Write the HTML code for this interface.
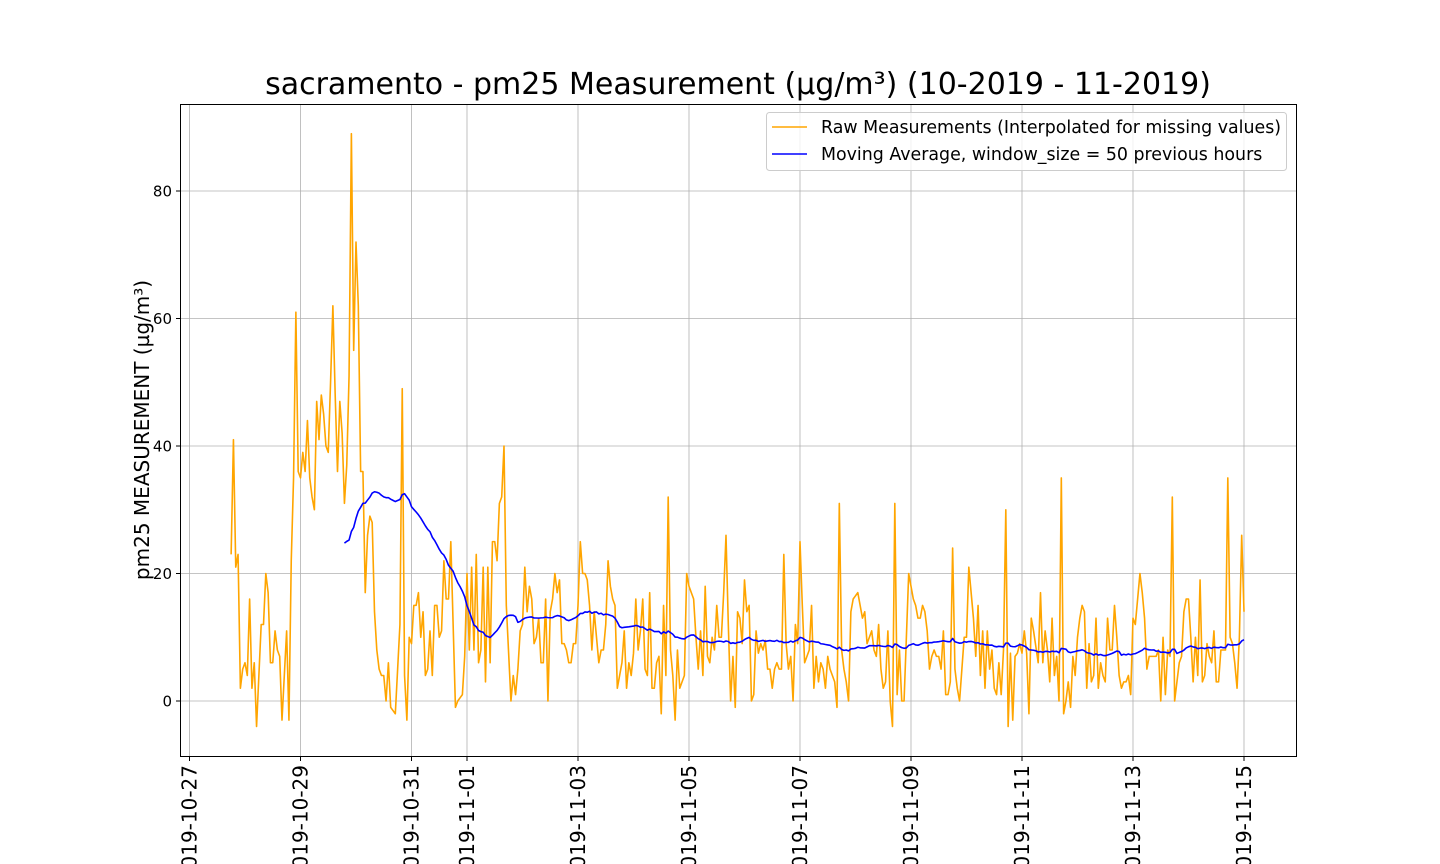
<!DOCTYPE html>
<html><head><meta charset="utf-8"><style>
html,body{margin:0;padding:0;background:#fff;}
svg{display:block;font-family:"DejaVu Sans","Liberation Sans",sans-serif;}
</style></head><body>
<svg id="chart" width="1440" height="864" viewBox="0 0 1440 864">
<text x="738" y="94" font-size="30" text-anchor="middle" fill="#000">sacramento - pm25 Measurement (µg/m³) (10-2019 - 11-2019)</text>
<g id="grid"></g>
<g id="series"></g>
<rect x="180.5" y="104.5" width="1116" height="652" fill="none" stroke="#000" stroke-width="1"/>
<g id="yaxis"></g>
<g id="xaxis"></g>
<text transform="translate(149,430) rotate(-90)" font-size="20" text-anchor="middle">pm25 MEASUREMENT (µg/m³)</text>
<g>
<rect x="766.5" y="112.5" width="520" height="58" rx="3" fill="#fff" fill-opacity="0.8" stroke="#ccc"/>
<line x1="772" y1="127" x2="807" y2="127" stroke="orange" stroke-width="1.6"/>
<text x="821" y="133" font-size="17.4">Raw Measurements (Interpolated for missing values)</text>
<line x1="772" y1="154" x2="807" y2="154" stroke="blue" stroke-width="1.6"/>
<text x="821" y="160" font-size="17.4">Moving Average, window_size = 50 previous hours</text>
</g>
</svg>
<script>
const startHour = 18; // hours after 2019-10-27 00:00
const windowSize = 50;
const yTicks = [0, 20, 40, 60, 80];
const xTickDays = [0, 2, 4, 5, 7, 9, 11, 13, 15, 17, 19];
const xTickLabels = ["2019-10-27","2019-10-29","2019-10-31","2019-11-01","2019-11-03","2019-11-05","2019-11-07","2019-11-09","2019-11-11","2019-11-13","2019-11-15"];
const rawValues = [
23,41,21,23,2,5,6,4,16,2,6,-4,4,12,12,20,17,6,6,11,8,7,-3,4,11,-3,22,35,61,36,
35,39,36,44,35,32,30,47,41,48,45,40,39,50,62,48,36,47,42,31,37,51,89,55,72,62,36,36,17,26,
29,28,14,8,5,4,4,0,6,-1,-1.5,-2,5,12,49,4,-3,10,9,15,15,17,10,14,4,5,11,4,15,15,
10,11,22,16,16,25,12,-1,0,0.5,1,7,20,8,21,8,23,6,8,21,3,21,6,25,25,22,31,32,40,15,
7.5,0,4,1,5,11,12,21,14,18,16,9,10,13,6,6,16,0,14,16,20,17,19,9,9,8,6,6,9,9,
15,25,20,20,19,15,8,14,10,6,8,8,12,22,18,16,15,2,4,6,11,2,6,4,7.5,16,8,11,16,5,
4,17,2,2,6,7,-2,15,4,32,8,4,-3,8,2,3,4,20,18,17,16,10,5,11,4,18,7,6,10,8,
15,10,10,17,26,12,0,7,-1,14,13,9,19,14,15,0,1,11,7.5,9,8,9.5,5,5,2,5,6,5,
5,23,9,5,7,0,12,9,25,15,6,7,8,15,2,7,3,6,5,2,7,5,4,3,-1,31,8,5,3,0,
14,16,16.5,17,15,13,14,9,10,11,8,7,12,5,2,3,11,0,-4,31,1,8,0,0,10,20,18,16,15,13,
13,15,14,11,5,7,8,7,7,5,11,1,1,3,24,5,2,0,5,10,10,21,17,13,7,15,4,11,2,11,
5,8,2,1,6,1,8,30,-4,7.5,-3,7,7.5,9,7.5,11,7.5,-2,13,11,8.5,6,17,6,11,8,3,13,
4,7,0,35,-2,0,3,-1,7,4,10,13,15,14,2,9,3,4,13,2,6,4,3,13,8,8,15,10,4,2,
3,3,4,1,13,12,16,20,17,13,5,7,7,7,7,8,0,10,1,8,7,32,0,3,6,7,14,16,16,10,
3,10,4,19,3,4,9,7,6,11,3,3,8,8,8,35,10,9,6,2,10,26,14
];
const X0 = 189.5, DAY = 55.5, Y0 = 701, UNIT = 6.375;
function xScale(hours){ return X0 + hours / 24 * DAY; }
function yScale(v){ return Y0 - v * UNIT; }
const NS = "http://www.w3.org/2000/svg";
const grid = document.getElementById('grid');
const yaxis = document.getElementById('yaxis');
const xaxis = document.getElementById('xaxis');
const series = document.getElementById('series');
yTicks.forEach(function(t){
  const y = yScale(t);
  const g = document.createElementNS(NS,'line');
  g.setAttribute('x1',181); g.setAttribute('x2',1296); g.setAttribute('y1',y); g.setAttribute('y2',y);
  g.setAttribute('stroke','#b0b0b0'); g.setAttribute('stroke-width','0.8');
  
  
  grid.appendChild(g);
  const tk = document.createElementNS(NS,'line');
  tk.setAttribute('x1',176); tk.setAttribute('x2',180.5); tk.setAttribute('y1',y); tk.setAttribute('y2',y);
  tk.setAttribute('stroke','#000');
  
  
  yaxis.appendChild(tk);
  const tx = document.createElementNS(NS,'text');
  tx.setAttribute('x',172); tx.setAttribute('y',y+5.5); tx.setAttribute('text-anchor','end'); tx.setAttribute('font-size','15');
  tx.textContent = String(t);
  
  
  yaxis.appendChild(tx);
});
xTickDays.forEach(function(d,i){
  const x = xScale(d*24);
  const g = document.createElementNS(NS,'line');
  g.setAttribute('x1',x); g.setAttribute('x2',x); g.setAttribute('y1',105); g.setAttribute('y2',756);
  g.setAttribute('stroke','#b0b0b0'); g.setAttribute('stroke-width','0.8');
  
  
  grid.appendChild(g);
  const tk = document.createElementNS(NS,'line');
  tk.setAttribute('x1',x); tk.setAttribute('x2',x); tk.setAttribute('y1',756.5); tk.setAttribute('y2',761);
  tk.setAttribute('stroke','#000');
  
  
  xaxis.appendChild(tk);
  const tx = document.createElementNS(NS,'text');
  tx.setAttribute('transform','translate('+(x+7)+',765) rotate(-90)');
  tx.setAttribute('text-anchor','end'); tx.setAttribute('font-size','20');
  tx.textContent = xTickLabels[i];
  
  
  xaxis.appendChild(tx);
});
let rawPts = rawValues.map(function(v,i){ return xScale(startHour+i).toFixed(2)+','+yScale(v).toFixed(2); });
const raw = document.createElementNS(NS,'polyline');
raw.setAttribute('points', rawPts.join(' '));
raw.setAttribute('fill','none'); raw.setAttribute('stroke','orange'); raw.setAttribute('stroke-width','1.6'); raw.setAttribute('stroke-linejoin','round');


series.appendChild(raw);
let maPts = [];
for (let i = windowSize-1; i < rawValues.length; i++){
  let s = 0;
  for (let j = i-windowSize+1; j <= i; j++) s += rawValues[j];
  maPts.push(xScale(startHour+i).toFixed(2)+','+yScale(s/windowSize).toFixed(2));
}
const ma = document.createElementNS(NS,'polyline');
ma.setAttribute('points', maPts.join(' '));
ma.setAttribute('fill','none'); ma.setAttribute('stroke','blue'); ma.setAttribute('stroke-width','1.6'); ma.setAttribute('stroke-linejoin','round');


series.appendChild(ma);
</script>
</body></html>
